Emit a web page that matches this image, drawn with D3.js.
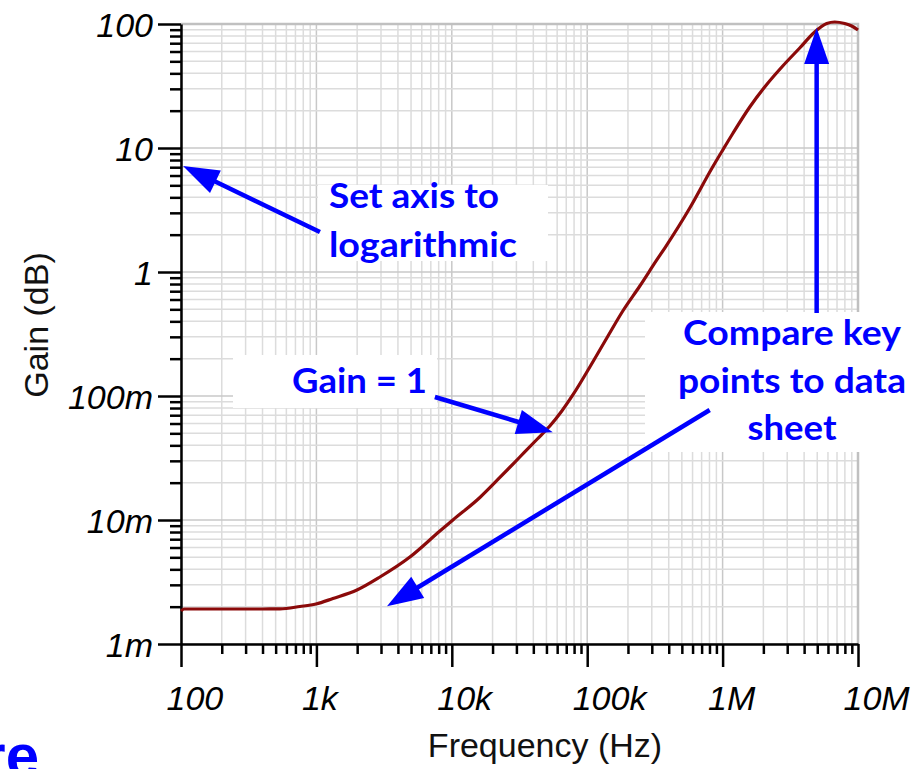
<!DOCTYPE html>
<html>
<head>
<meta charset="utf-8">
<script src="https://cdn.jsdelivr.net/npm/d3@7"></script>
<style>
  html, body { margin: 0; padding: 0; background: #fff; overflow: hidden; }
  svg { display: block; }
  .tick-label { font-family: "Liberation Sans", Arial, sans-serif; font-style: italic; font-size: 34px; fill: #000; }
  .axis-title { font-family: "Liberation Sans", Arial, sans-serif; font-size: 34px; fill: #111; }
  .note { font-family: Lato, "Open Sans", sans-serif; font-weight: 700; font-size: 35px; fill: #0000ff; }
</style>
</head>
<body>
<svg id="chart" width="916" height="769"></svg>
<script>
// Frequency sweep (Hz) and the measured gain at each frequency
const freqHz = [100, 105, 150, 250, 400, 538, 756, 992, 1325, 1992, 2945, 4903, 8166, 10190,
  16120, 22650, 31810, 42480, 52980, 64950, 78320, 104600, 139600, 183200, 244700, 326500,
  374100, 572400, 831800, 1003000, 1189000, 1587000, 2118000, 2781000, 3712000, 4788000,
  5875000, 6730000, 7980000, 8985000, 10000000];
const gain = [0.001845, 0.001916, 0.001916, 0.001916, 0.001916, 0.001920, 0.002006, 0.002101,
  0.002327, 0.002726, 0.00347, 0.00503, 0.00815, 0.0100, 0.01519, 0.02202, 0.03222, 0.04459,
  0.05729, 0.07568, 0.1019, 0.1713, 0.2936, 0.4847, 0.771, 1.25, 1.561, 3.282, 6.835, 9.636,
  13.09, 21.41, 32.52, 45.85, 64.04, 86.2, 100.9, 103.8, 100.9, 96.36, 89.5];

// Axis decades and their labels
const xMajor = [1e2, 1e3, 1e4, 1e5, 1e6, 1e7];
const xTickLabels = ["100", "1k", "10k", "100k", "1M", "10M"];
const yMajor = [1e-3, 1e-2, 1e-1, 1, 10, 100];
const yTickLabels = ["1m", "10m", "100m", "1", "10", "100"];

// Callout notes: text lines and the arrows, with arrow ends in (Hz, gain) units
const noteLines = [
  ["Set axis to", "logarithmic"],
  ["Gain = 1"],
  ["Compare key", "points to data", "sheet"]
];
const arrowFrom = [[1062, 2.10], [7500, 0.0982], [803000, 0.0771], [4950000, 0.467]];
const arrowTo   = [[103.5, 7.16], [55700, 0.051], [3320, 0.00202], [4950000, 93]];

(function draw() {
  const svg = d3.select("#chart");
  const pL = 181, pR = 858, pT = 24, pB = 644;

  const x = d3.scaleLog().domain([1e2, 1e7]).range([pL, pR]);
  const y = d3.scaleLog().domain([1e-3, 1e2]).range([pB, pT]);

  const minorOf = majors => {
    const out = [];
    majors.slice(0, -1).forEach(d => { for (let k = 2; k <= 9; k++) out.push(d * k); });
    return out;
  };
  const xMinor = minorOf(xMajor);
  const yMinor = minorOf(yMajor);

  // Grid
  const grid = svg.append("g");
  grid.selectAll(".vgrid").data(xMinor.concat(xMajor)).join("line")
    .attr("x1", d => x(d)).attr("x2", d => x(d))
    .attr("y1", pT).attr("y2", pB)
    .attr("stroke", d => xMajor.includes(d) ? "#c8c8c8" : "#dcdcdc")
    .attr("stroke-width", 1.5);
  grid.selectAll(".hgrid").data(yMinor.concat(yMajor)).join("line")
    .attr("x1", pL).attr("x2", pR)
    .attr("y1", d => y(d)).attr("y2", d => y(d))
    .attr("stroke", d => yMajor.includes(d) ? "#c8c8c8" : "#dcdcdc")
    .attr("stroke-width", 1.5);
  // Frame top and right
  svg.append("path")
    .attr("d", `M${pL},${pT}H${pR}V${pB}`)
    .attr("fill", "none").attr("stroke", "#c0c0c0").attr("stroke-width", 2.5);

  // White label panels
  const panels = [
    [318, 185, 230, 76],
    [233, 355, 204, 53],
    [645, 312, 271, 140]
  ];
  svg.selectAll(".panel").data(panels).join("rect")
    .attr("x", d => d[0]).attr("y", d => d[1]).attr("width", d => d[2]).attr("height", d => d[3])
    .attr("fill", "#fff");

  // Axes
  const styleAxis = g => {
    g.selectAll("line").attr("stroke", "#000").attr("stroke-width", 2.5);
    g.select(".domain").attr("stroke", "#000").attr("stroke-width", 2.5);
  };
  const xAxisG = svg.append("g").attr("transform", `translate(0,${pB})`);
  xAxisG.append("g").call(d3.axisBottom(x).tickValues(xMinor).tickSize(10).tickSizeOuter(0).tickFormat(""))
    .call(styleAxis).call(g => g.select(".domain").remove());
  xAxisG.append("g").call(d3.axisBottom(x).tickValues(xMajor).tickSize(23).tickSizeOuter(0)
      .tickFormat((d, i) => xTickLabels[i]))
    .call(styleAxis)
    .call(g => g.selectAll("text").attr("class", "tick-label")
      .attr("text-anchor", "start").attr("x", -15).attr("y", 66).attr("dy", null)
      .attr("font-family", null).attr("font-size", null).attr("fill", null));
  xAxisG.selectAll("g").attr("font-family", null).attr("font-size", null);

  const yAxisG = svg.append("g").attr("transform", `translate(${pL},0)`);
  yAxisG.append("g").call(d3.axisLeft(y).tickValues(yMinor).tickSize(11).tickSizeOuter(0).tickFormat(""))
    .call(styleAxis).call(g => g.select(".domain").remove());
  yAxisG.append("g").call(d3.axisLeft(y).tickValues(yMajor).tickSize(23).tickSizeOuter(0)
      .tickFormat((d, i) => yTickLabels[i]))
    .call(styleAxis)
    .call(g => g.selectAll("text").attr("class", "tick-label")
      .attr("text-anchor", "end").attr("x", -28).attr("dy", "0.36em")
      .attr("font-family", null).attr("font-size", null).attr("fill", null));
  yAxisG.selectAll("g").attr("font-family", null).attr("font-size", null);

  // Axis titles
  svg.append("text").attr("class", "axis-title")
    .attr("x", 545).attr("y", 757).attr("text-anchor", "middle").text("Frequency (Hz)");
  svg.append("text").attr("class", "axis-title")
    .attr("transform", "translate(48,325) rotate(-90)").attr("text-anchor", "middle").text("Gain (dB)");

  // Gain curve
  const pts = freqHz.map((f, i) => ({ f, g: gain[i] }));
  svg.append("path").datum(pts)
    .attr("fill", "none").attr("stroke", "#8b0a0a").attr("stroke-width", 3.2)
    .attr("stroke-linejoin", "round")
    .attr("d", d3.line().x(d => x(d.f)).y(d => y(d.g)).curve(d3.curveMonotoneX));

  // Callout text
  const notePos = [
    { x: 329, y: 208, anchor: "start", step: 49, widths: [170, 188] },
    { x: 292, y: 393, anchor: "start", step: 0, widths: [135] },
    { x: 792, y: 345, anchor: "middle", step: 47.5, widths: [218, 228, 89] }
  ];
  noteLines.forEach((lines, i) => {
    const p = notePos[i];
    lines.forEach((t, j) => {
      svg.append("text").attr("class", "note")
        .attr("x", p.x).attr("y", p.y + j * p.step)
        .attr("text-anchor", p.anchor)
        .attr("textLength", p.widths[j]).attr("lengthAdjust", "spacingAndGlyphs")
        .text(t);
    });
  });

  // Arrows
  const headLen = 36, headHalf = 12.5;
  arrowFrom.forEach((a, i) => {
    const b = arrowTo[i];
    const x0 = x(a[0]), y0 = y(a[1]), x1 = x(b[0]), y1 = y(b[1]);
    const len = Math.hypot(x1 - x0, y1 - y0);
    const ux = (x1 - x0) / len, uy = (y1 - y0) / len;
    const bx = x1 - ux * headLen, by = y1 - uy * headLen;
    svg.append("line").attr("x1", x0).attr("y1", y0).attr("x2", bx + ux * 2).attr("y2", by + uy * 2)
      .attr("stroke", "#0000ff").attr("stroke-width", 4.5);
    svg.append("path")
      .attr("d", `M${x1},${y1}L${bx - uy * headHalf},${by + ux * headHalf}L${bx + uy * headHalf},${by - ux * headHalf}Z`)
      .attr("fill", "#0000ff");
  });

  // Fragment of a heading below the chart
  svg.append("text")
    .attr("x", 39).attr("y", 776).attr("text-anchor", "end")
    .attr("font-family", "Liberation Sans, Arial, sans-serif").attr("font-weight", 700)
    .attr("font-size", 60).attr("fill", "#0000ff").text("re");
})();
</script>
</body>
</html>
